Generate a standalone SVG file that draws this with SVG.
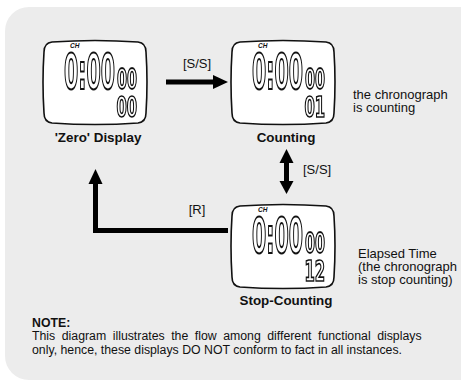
<svg xmlns="http://www.w3.org/2000/svg" width="461" height="381" viewBox="0 0 461 381">
<style>
.lbl{font-family:"Liberation Sans",Arial,sans-serif;font-size:13.4px;font-weight:bold;fill:#111;text-anchor:middle}
.txt{font-family:"Liberation Sans",Arial,sans-serif;font-size:13px;fill:#111}
.note{font-family:"Liberation Sans",Arial,sans-serif;font-size:12.3px;fill:#111}
.ch{font-family:"Liberation Sans",Arial,sans-serif;font-size:6.5px;font-weight:bold;font-style:italic;fill:#111}
.lcd{font-family:"DejaVu Sans Condensed","DejaVu Sans",sans-serif;font-weight:bold;fill:#fff;stroke:#111;stroke-width:1}
.digits{filter:url(#flat)}
.frame{fill:#fff;stroke:#111;stroke-width:1.6}
.shaft{fill:none;stroke:#000;stroke-width:5}
.head{fill:#000}
</style>
<defs>
<filter id="flat" x="-10%" y="-10%" width="120%" height="120%"><feOffset dx="0" dy="0"/></filter>
<path id="frame" class="frame" d="M52,42 Q95,39 138,42 Q146,43 146,52 Q148,82 146,113 Q146,122 138,123 Q95,126 52,123 Q44,122 44,113 Q42,82 44,52 Q44,43 52,42 Z"/>
</defs>
<rect x="5" y="7" width="480" height="373" rx="24" fill="#ececec"/>

<g id="zero-display">
<use href="#frame"/>
<text class="ch" x="70" y="47.5">CH</text>
<g class="digits">
<text class="lcd" font-size="24" transform="translate(64,89) scale(0.95,2.06)">0:00</text>
<text class="lcd" font-size="16" transform="translate(117,89) scale(1,1.8)">00</text>
<text class="lcd" font-size="16" transform="translate(116.5,117) scale(1.03,1.72)">00</text>
</g>
<text class="lbl" x="98" y="142">'Zero' Display</text>
</g>

<g id="counting">
<use href="#frame" transform="translate(188,0)"/>
<text class="ch" x="258" y="47.5">CH</text>
<g class="digits">
<text class="lcd" font-size="24" transform="translate(252,89) scale(0.95,2.06)">0:00</text>
<text class="lcd" font-size="16" transform="translate(305,89) scale(1,1.8)">00</text>
<text class="lcd" font-size="16" transform="translate(304.5,117) scale(1.03,1.72)">01</text>
</g>
<text class="lbl" x="286" y="142">Counting</text>
<text class="txt" x="353" y="99">the chronograph</text>
<text class="txt" x="353" y="112">is counting</text>
</g>

<g id="stop-counting">
<use href="#frame" transform="translate(188,164)"/>
<text class="ch" x="258" y="211.5">CH</text>
<g class="digits">
<text class="lcd" font-size="24" transform="translate(252,253) scale(0.95,2.06)">0:00</text>
<text class="lcd" font-size="16" transform="translate(305,253) scale(1,1.8)">00</text>
<text class="lcd" font-size="16" transform="translate(304.5,281) scale(1.03,1.72)">12</text>
</g>
<text class="lbl" x="286" y="305">Stop-Counting</text>
<text class="txt" x="358" y="258">Elapsed Time</text>
<text class="txt" x="358" y="271">(the chronograph</text>
<text class="txt" x="358" y="284">is stop counting)</text>
</g>

<g id="connectors">
<line class="shaft" x1="166" y1="82" x2="215" y2="82"/>
<polygon class="head" points="213,75 228,82 213,89"/>
<text class="txt" x="197" y="68" text-anchor="middle">[S/S]</text>

<line class="shaft" x1="286.5" y1="161" x2="286.5" y2="184"/>
<polygon class="head" points="279.5,163 286.5,149 293.5,163"/>
<polygon class="head" points="279.5,181 286.5,194 293.5,181"/>
<text class="txt" x="303" y="174">[S/S]</text>

<path class="shaft" d="M228,230.5 H95.5 V182"/>
<polygon class="head" points="88.5,184 95.5,169 102.5,184"/>
<text class="txt" x="197" y="214" text-anchor="middle">[R]</text>
</g>

<g id="note">
<text class="note" x="32" y="327" font-weight="bold">NOTE:</text>
<text class="note" x="32" y="340" word-spacing="3.1">This diagram illustrates the flow among different functional displays</text>
<text class="note" x="32" y="354">only, hence, these displays DO NOT conform to fact in all instances.</text>
</g>
</svg>
